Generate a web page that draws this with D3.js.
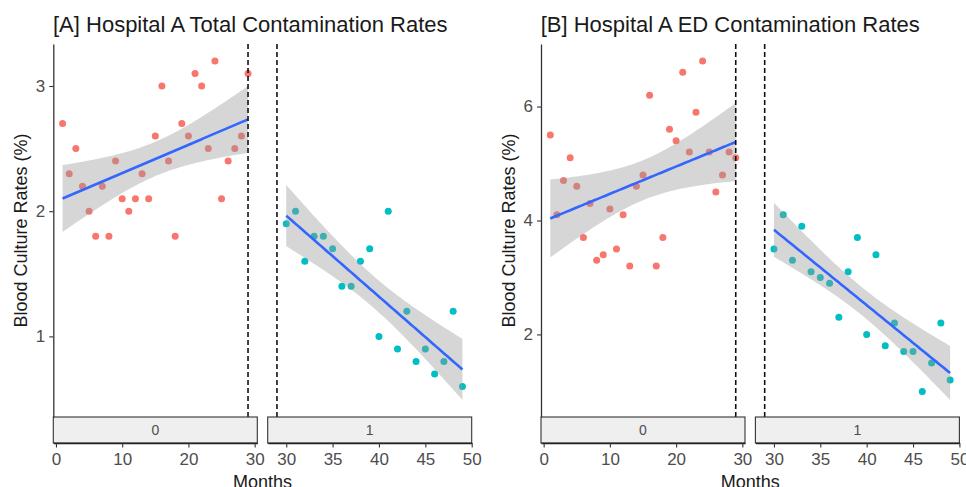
<!DOCTYPE html>
<html>
<head>
<meta charset="utf-8">
<script src="https://cdn.jsdelivr.net/npm/d3@7"></script>
<style>
  body { margin: 0; background: #fff; }
  text { font-family: "Liberation Sans", Arial, sans-serif; }
</style>
</head>
<body>
<div id="chart"></div>
<script>
// months before (group 0) and after (group 1) the intervention
var monthsPre = [1, 2, 3, 4, 5, 6, 7, 8, 9, 10, 11, 12, 13, 14, 15, 16, 17, 18, 19, 20, 21, 22, 23, 24, 25, 26, 27, 28, 29];
var monthsPost = [30, 31, 32, 33, 34, 35, 36, 37, 38, 39, 40, 41, 42, 43, 44, 45, 46, 47, 48, 49];

// [A] total contamination rates (%)
var totalPre = [2.7, 2.3, 2.5, 2.2, 2.0, 1.8, 2.2, 1.8, 2.4, 2.1, 2.0, 2.1, 2.3, 2.1, 2.6, 3.0, 2.4, 1.8, 2.7, 2.6, 3.1, 3.0, 2.5, 3.2, 2.1, 2.4, 2.5, 2.6, 3.1];
var totalPost = [1.9, 2.0, 1.6, 1.8, 1.8, 1.7, 1.4, 1.4, 1.6, 1.7, 1.0, 2.0, 0.9, 1.2, 0.8, 0.9, 0.7, 0.8, 1.2, 0.6];

// [B] ED contamination rates (%)
var edPre = [5.5, 4.1, 4.7, 5.1, 4.6, 3.7, 4.3, 3.3, 3.4, 4.2, 3.5, 4.1, 3.2, 4.6, 4.8, 6.2, 3.2, 3.7, 5.6, 5.4, 6.6, 5.2, 5.9, 6.8, 5.2, 4.5, 4.8, 5.2, 5.1];
var edPost = [3.5, 4.1, 3.3, 3.9, 3.1, 3.0, 2.9, 2.3, 3.1, 3.7, 2.0, 3.4, 1.8, 2.2, 1.7, 1.7, 1.0, 1.5, 2.2, 1.2];

var cutMonth = 29;
var stripLabels = ["0", "1"];
var xTicksPre = [0, 10, 20, 30];
var xTicksPost = [30, 35, 40, 45, 50];
var yTicksA = [1, 2, 3];
var yTicksB = [2, 4, 6];

var W = 966, H = 487;
var panelTop = 44, panelBottom = 417, stripBottom = 443;
var colPre = "#F8766D", colPost = "#00BFC4";

var svg = d3.select("#chart").append("svg")
  .attr("width", W)
  .attr("height", H);

// t quantile (0.975) by Cornish-Fisher expansion
function tq(df) {
  var z = 1.959964;
  return z + (Math.pow(z, 3) + z) / (4 * df) +
    (5 * Math.pow(z, 5) + 16 * Math.pow(z, 3) + 3 * z) / (96 * df * df) +
    (3 * Math.pow(z, 7) + 19 * Math.pow(z, 5) + 17 * Math.pow(z, 3) - 15 * z) / (384 * df * df * df);
}

// linear fit with 95% confidence band, like geom_smooth(method = "lm")
function fitLm(xs, ys) {
  var n = xs.length;
  var xbar = d3.mean(xs), ybar = d3.mean(ys);
  var sxx = d3.sum(xs, function (x) { return (x - xbar) * (x - xbar); });
  var sxy = d3.sum(xs, function (x, i) { return (x - xbar) * (ys[i] - ybar); });
  var b = sxy / sxx, a = ybar - b * xbar;
  var sse = d3.sum(xs, function (x, i) { var r = ys[i] - (a + b * x); return r * r; });
  var s = Math.sqrt(sse / (n - 2));
  var t = tq(n - 2);
  var x0 = d3.min(xs), x1 = d3.max(xs);
  var pts = [];
  for (var k = 0; k < 80; k++) {
    var x = x0 + (x1 - x0) * k / 79;
    var yhat = a + b * x;
    var se = s * Math.sqrt(1 / n + (x - xbar) * (x - xbar) / sxx);
    pts.push({ x: x, y: yhat, lo: yhat - t * se, hi: yhat + t * se });
  }
  return pts;
}

function drawChart(off, title, pre, post, yTicks) {
  var g = svg.append("g").attr("transform", "translate(" + off + ",0)");

  var fitPre = fitLm(monthsPre, pre);
  var fitPost = fitLm(monthsPost, post);

  // shared y range: points and ribbons, expanded by 5%
  var lo = d3.min([d3.min(pre), d3.min(post), d3.min(fitPre, function (d) { return d.lo; }), d3.min(fitPost, function (d) { return d.lo; })]);
  var hi = d3.max([d3.max(pre), d3.max(post), d3.max(fitPre, function (d) { return d.hi; }), d3.max(fitPost, function (d) { return d.hi; })]);
  var pad = (hi - lo) * 0.05;
  var y = d3.scaleLinear().domain([lo - pad, hi + pad]).range([panelBottom, panelTop]);

  var panels = [
    { x0: 53.3, x1: 257.3, months: monthsPre, vals: pre, fit: fitPre, col: colPre, ticks: xTicksPre, label: stripLabels[0] },
    { x0: 267.7, x1: 471.7, months: monthsPost, vals: post, fit: fitPost, col: colPost, ticks: xTicksPost, label: stripLabels[1] }
  ];

  panels.forEach(function (p) {
    var ext = d3.extent(p.months.concat([cutMonth]));
    var xp = (ext[1] - ext[0]) * 0.05;
    var x = d3.scaleLinear().domain([ext[0] - xp, ext[1] + xp]).range([p.x0, p.x1]);

    var pg = g.append("g");

    pg.selectAll("circle")
      .data(p.months)
      .enter()
      .append("circle")
      .attr("cx", function (d) { return x(d); })
      .attr("cy", function (d, i) { return y(p.vals[i]); })
      .attr("r", 3.5)
      .attr("fill", p.col);

    pg.append("path")
      .datum(p.fit)
      .attr("d", d3.area()
        .x(function (d) { return x(d.x); })
        .y0(function (d) { return y(d.lo); })
        .y1(function (d) { return y(d.hi); }))
      .attr("fill", "#999999")
      .attr("fill-opacity", 0.4);

    pg.append("path")
      .datum(p.fit)
      .attr("d", d3.line()
        .x(function (d) { return x(d.x); })
        .y(function (d) { return y(d.y); }))
      .attr("fill", "none")
      .attr("stroke", "#3366FF")
      .attr("stroke-width", 2.6);

    pg.append("line")
      .attr("x1", x(cutMonth)).attr("x2", x(cutMonth))
      .attr("y1", panelTop).attr("y2", panelBottom)
      .attr("stroke", "#111")
      .attr("stroke-width", 1.6)
      .attr("stroke-dasharray", "5,3");

    // strip at the bottom
    pg.append("rect")
      .attr("x", p.x0).attr("y", panelBottom)
      .attr("width", p.x1 - p.x0).attr("height", stripBottom - panelBottom)
      .attr("fill", "#efefef")
      .attr("stroke", "#333")
      .attr("stroke-width", 1.1);
    pg.append("text")
      .attr("x", (p.x0 + p.x1) / 2)
      .attr("y", (panelBottom + stripBottom) / 2)
      .attr("dy", "0.35em")
      .attr("text-anchor", "middle")
      .style("font-size", "14px")
      .attr("fill", "#4d4d4d")
      .text(p.label);

    // x axis
    var xa = pg.append("g").attr("transform", "translate(0," + stripBottom + ")")
      .call(d3.axisBottom(x).tickValues(p.ticks).tickSize(4.5).tickPadding(5).tickSizeOuter(0));
    xa.select(".domain").attr("stroke", "#222").attr("stroke-width", 1.6);
    xa.selectAll(".tick line").attr("stroke", "#333").attr("stroke-width", 1.1);
    xa.selectAll(".tick text")
      .attr("fill", "#4d4d4d")
      .style("font-size", "17px")
      .style("font-family", "'Liberation Sans', Arial, sans-serif");
  });

  // y axis on the first panel
  var ya = g.append("g").attr("transform", "translate(53.3,0)")
    .call(d3.axisLeft(y).tickValues(yTicks).tickFormat(d3.format("d")).tickSize(4).tickPadding(4).tickSizeOuter(0));
  ya.select(".domain").attr("stroke", "#333").attr("stroke-width", 1.3);
  ya.selectAll(".tick line").attr("stroke", "#333").attr("stroke-width", 1.1);
  ya.selectAll(".tick text")
    .attr("fill", "#4d4d4d")
    .style("font-size", "17px")
    .style("font-family", "'Liberation Sans', Arial, sans-serif");

  g.append("text")
    .attr("transform", "translate(21," + (panelTop + panelBottom) / 2 + ") rotate(-90)")
    .attr("dy", "0.35em")
    .attr("text-anchor", "middle")
    .style("font-size", "18px")
    .attr("fill", "#1a1a1a")
    .text("Blood Culture Rates (%)");

  g.append("text")
    .attr("x", 262.5)
    .attr("y", 488)
    .attr("text-anchor", "middle")
    .style("font-size", "18px")
    .attr("fill", "#1a1a1a")
    .text("Months");

  g.append("text")
    .attr("x", 53)
    .attr("y", 31.5)
    .style("font-size", "22px")
    .attr("fill", "#1a1a1a")
    .text(title);
}

drawChart(0, "[A] Hospital A Total Contamination Rates", totalPre, totalPost, yTicksA);
drawChart(487.7, "[B] Hospital A ED Contamination Rates", edPre, edPost, yTicksB);
</script>
</body>
</html>
